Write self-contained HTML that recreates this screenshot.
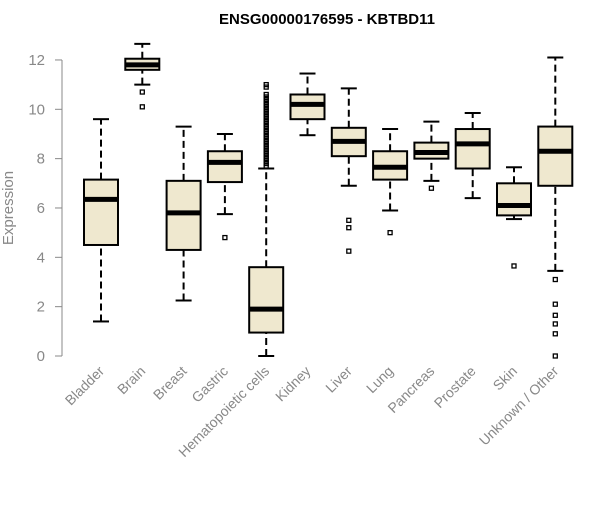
<!DOCTYPE html>
<html><head><meta charset="utf-8"><style>
body{margin:0;background:#fff;font-family:"Liberation Sans",sans-serif}
</style></head><body>
<svg id="chart" width="600" height="500" xmlns="http://www.w3.org/2000/svg">
<text x="327" y="24" text-anchor="middle" font-weight="bold" font-size="15">ENSG00000176595 - KBTBD11</text>
<text x="13" y="208" transform="rotate(-90 13 208)" text-anchor="middle" fill="#888" font-size="15">Expression</text>
<g id="plot"></g>
</svg>
<script>
const categories=["Bladder","Brain","Breast","Gastric","Hematopoietic cells","Kidney","Liver","Lung","Pancreas","Prostate","Skin","Unknown / Other"];
const whiskLow=[1.4,11.0,2.25,5.75,0,8.95,6.9,5.9,7.1,6.4,5.55,3.45];
const q1=[4.5,11.6,4.3,7.05,0.95,9.6,8.1,7.15,8.0,7.6,5.7,6.9];
const medians=[6.35,11.8,5.8,7.85,1.9,10.2,8.7,7.65,8.25,8.6,6.1,8.3];
const q3=[7.15,12.05,7.1,8.3,3.6,10.6,9.25,8.3,8.65,9.2,7.0,9.3];
const whiskHigh=[9.6,12.65,9.3,9.0,7.6,11.45,10.85,9.2,9.5,9.85,7.65,12.1];
const outliers=[[],[10.7,10.1],[],[4.8],[7.7,7.8,7.9,8.0,8.1,8.2,8.3,8.4,8.5,8.6,8.7,8.8,8.9,9.0,9.1,9.2,9.3,9.4,9.5,9.6,9.7,9.8,9.9,10.0,10.1,10.2,10.3,10.4,10.5,10.6,10.9,11.0],[],[5.5,5.2,4.25],[5.0],[6.8],[],[3.65],[3.1,2.1,1.65,1.3,0.9,0]];
const yTicks=[0,2,4,6,8,10,12];
const NS="http://www.w3.org/2000/svg";
const g=document.getElementById('plot');
const y=v=>356-v*24.67;
const x=i=>101+i*41.3;
function mk(t,a){const e=document.createElementNS(NS,t);for(const k in a)e.setAttribute(k,a[k]);g.appendChild(e);return e;}
let ax=mk('line',{x1:62,x2:62,y1:y(12),y2:y(0),stroke:'#888'});


yTicks.forEach(v=>{
 const l=mk('line',{x1:55,x2:62,y1:y(v),y2:y(v),stroke:'#888'});
 
 
 const t=mk('text',{x:45,y:y(v)+5,'text-anchor':'end',fill:'#888','font-size':15});
 t.textContent=v;
 
 
});
categories.forEach((c,i)=>{
 const cx=x(i),hw=17,cw=8;
 const grp=document.createElementNS(NS,'g');g.appendChild(grp);
 
 
 const add=(t,a)=>{const e=mk(t,a);grp.appendChild(e);return e;};
 add('line',{x1:cx,x2:cx,y1:y(whiskLow[i]),y2:y(q1[i]),stroke:'#000','stroke-width':2,'stroke-dasharray':'7,4'});
 add('line',{x1:cx,x2:cx,y1:y(q3[i]),y2:y(whiskHigh[i]),stroke:'#000','stroke-width':2,'stroke-dasharray':'7,4'});
 add('line',{x1:cx-cw,x2:cx+cw,y1:y(whiskLow[i]),y2:y(whiskLow[i]),stroke:'#000','stroke-width':2});
 add('line',{x1:cx-cw,x2:cx+cw,y1:y(whiskHigh[i]),y2:y(whiskHigh[i]),stroke:'#000','stroke-width':2});
 add('rect',{x:cx-hw,y:y(q3[i]),width:2*hw,height:y(q1[i])-y(q3[i]),fill:'#efe8cf',stroke:'#000','stroke-width':2});
 add('line',{x1:cx-hw,x2:cx+hw,y1:y(medians[i]),y2:y(medians[i]),stroke:'#000','stroke-width':5});
 outliers[i].forEach(o=>{add('rect',{x:cx-2,y:y(o)-2,width:4,height:4,fill:'none',stroke:'#000','stroke-width':1.3});});
 const t=mk('text',{x:cx+4,y:372,'text-anchor':'end',fill:'#888','font-size':14,transform:`rotate(-45 ${cx+4} 372)`});
 t.textContent=c;
 
 
});
</script>
</body></html>
